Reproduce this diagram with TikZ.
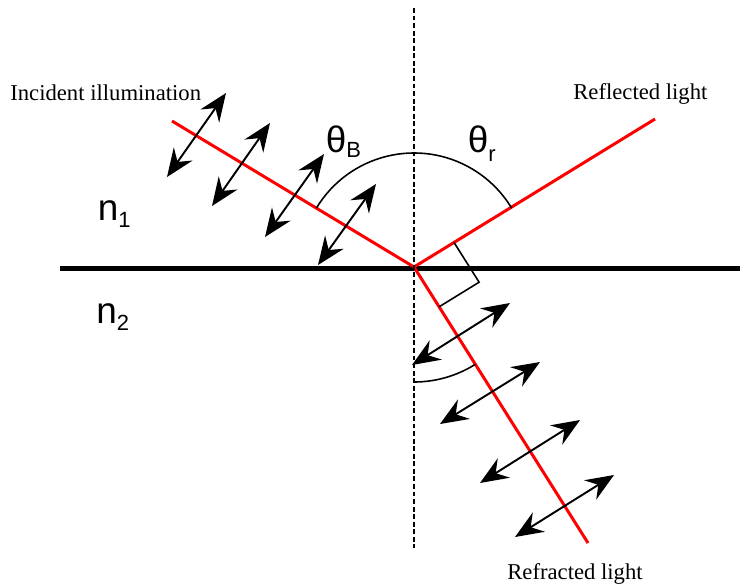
\documentclass[tikz,border=0pt]{standalone}
\usepackage{fontspec}
\setmainfont{Liberation Serif}
\newfontfamily\labelsans{Liberation Sans}
\usepackage{xcolor}
\usetikzlibrary{arrows.meta}

\newcommand{\lowsub}[2][4.5pt]{\raisebox{-#1}{\fontsize{12.5}{12.5}\selectfont #2}}

\begin{document}
\begin{tikzpicture}[x=0.02cm, y=-0.02cm,
    polhead/.tip={Stealth[length=16pt, width=13pt, inset=5.5pt]},
    ray/.style={red, line width=1.7pt},
    pol/.style={polhead-polhead, line width=1.1pt},
    anglemark/.style={line width=0.9pt},
    caption/.style={inner sep=0pt, anchor=base west, font=\fontsize{12.9}{15}\selectfont},
    symbol/.style={inner sep=0pt, anchor=base west, font=\labelsans\fontsize{21}{24}\selectfont}]

\useasboundingbox (0,0) rectangle (740,586);

% interface, normal and rays
\coordinate (O) at (414,267);
\coordinate (ifl) at (60,268);
\coordinate (ifr) at (740,268);
\coordinate (ntop) at (414,8);
\coordinate (nbot) at (414,548);
\coordinate (src) at (172,121);
\coordinate (refl) at (655,119);
\coordinate (refr) at (588,543);

\draw[line width=2.85pt] (ifl) -- (ifr);
\draw[ray] (src) -- (O) -- (refl);
\draw[ray] (O) -- (refr);
\draw[line width=0.85pt, dash pattern=on 2.8pt off 1.5pt] (ntop) -- (nbot);

% angle marks
\coordinate (arcB) at (316.4,208.1);
\coordinate (arcT) at (414,382);
\draw[anglemark] (arcB) arc[start angle=-148.9, end angle=-31.1, radius=114];
\draw[anglemark] (arcT) arc[start angle=90, end angle=57.8, radius=115];
\coordinate (ra1) at (454,242.4);
\coordinate (ra2) at (479.1,282.2);
\coordinate (ra3) at (439.1,306.8);
\draw[anglemark] (ra1) -- (ra2) -- (ra3);

% polarisation of incident light
\coordinate (i1a) at (226,93);  \coordinate (i1b) at (167,177);
\coordinate (i2a) at (270,123); \coordinate (i2b) at (212,206);
\coordinate (i3a) at (324,154); \coordinate (i3b) at (265,237);
\coordinate (i4a) at (376,184); \coordinate (i4b) at (318,265);
\draw[pol] (i1a) -- (i1b);
\draw[pol] (i2a) -- (i2b);
\draw[pol] (i3a) -- (i3b);
\draw[pol] (i4a) -- (i4b);

% polarisation of refracted light
\coordinate (t1a) at (510,303); \coordinate (t1b) at (412,365);
\coordinate (t2a) at (540,362); \coordinate (t2b) at (440,424);
\coordinate (t3a) at (580,420); \coordinate (t3b) at (480,483);
\coordinate (t4a) at (614,475); \coordinate (t4b) at (515,537);
\draw[pol] (t1a) -- (t1b);
\draw[pol] (t2a) -- (t2b);
\draw[pol] (t3a) -- (t3b);
\draw[pol] (t4a) -- (t4b);

% labels
\node[caption] (incident) at (10,100.5) {Incident illumination};
\node[caption] (reflected) at (573,99) {Reflected light};
\node[caption] (refracted) at (507,579) {Refracted light};
\node[symbol] (n1) at (97.5,220) {n\lowsub{1}};
\node[symbol] (n2) at (96,323) {n\lowsub{2}};
\node[symbol] (thetaB) at (325.5,152) {θ\lowsub[3pt]{B}};
\node[symbol] (thetaR) at (467.5,152) {θ\lowsub[5.5pt]{r}};
\end{tikzpicture}
\end{document}
